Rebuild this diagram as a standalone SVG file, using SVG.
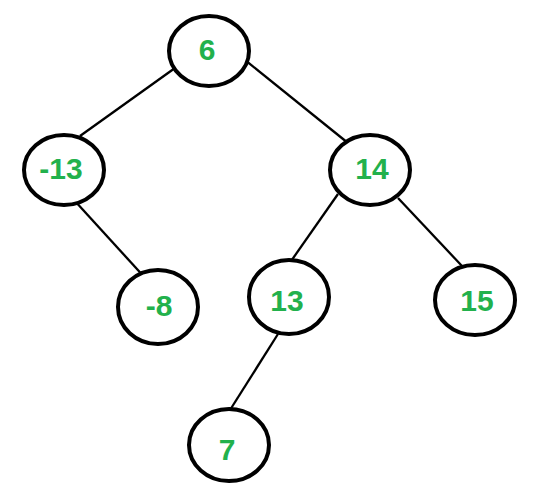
<svg xmlns="http://www.w3.org/2000/svg" width="554" height="489" viewBox="0 0 554 489">
<style>
.n{fill:#fff;stroke:#000;stroke-width:4}
.t{font-family:"Liberation Sans",Arial,sans-serif;font-weight:bold;font-size:30px;fill:#22B14C;text-anchor:middle}
.e{stroke:#000;stroke-width:2.3;fill:none}
</style>
<rect width="554" height="489" fill="#fff"/>
<g id="edges">
<line class="e" x1="175" y1="68" x2="80" y2="136"/>
<line class="e" x1="245" y1="60" x2="348" y2="143"/>
<line class="e" x1="74" y1="200" x2="147" y2="280"/>
<line class="e" x1="338" y1="194" x2="289" y2="264"/>
<line class="e" x1="398" y1="198" x2="462" y2="266"/>
<line class="e" x1="278" y1="334" x2="230" y2="410"/>
</g>
<g id="n6"><ellipse class="n" cx="209" cy="51" rx="40" ry="35"/><text class="t" x="207" y="60">6</text></g>
<g id="nm13"><ellipse class="n" cx="64" cy="170" rx="40" ry="35"/><text class="t" x="61" y="179">-13</text></g>
<g id="n14"><ellipse class="n" cx="370" cy="170" rx="40" ry="35"/><text class="t" x="372" y="179">14</text></g>
<g id="nm8"><ellipse class="n" cx="158" cy="307" rx="40" ry="37"/><text class="t" x="159" y="316">-8</text></g>
<g id="n13"><ellipse class="n" cx="289" cy="297" rx="40" ry="37"/><text class="t" x="287" y="311">13</text></g>
<g id="n15"><ellipse class="n" cx="475" cy="300" rx="40" ry="35"/><text class="t" x="477" y="311">15</text></g>
<g id="n7"><ellipse class="n" cx="229" cy="445" rx="40" ry="36"/><text class="t" x="227" y="460">7</text></g>
</svg>
